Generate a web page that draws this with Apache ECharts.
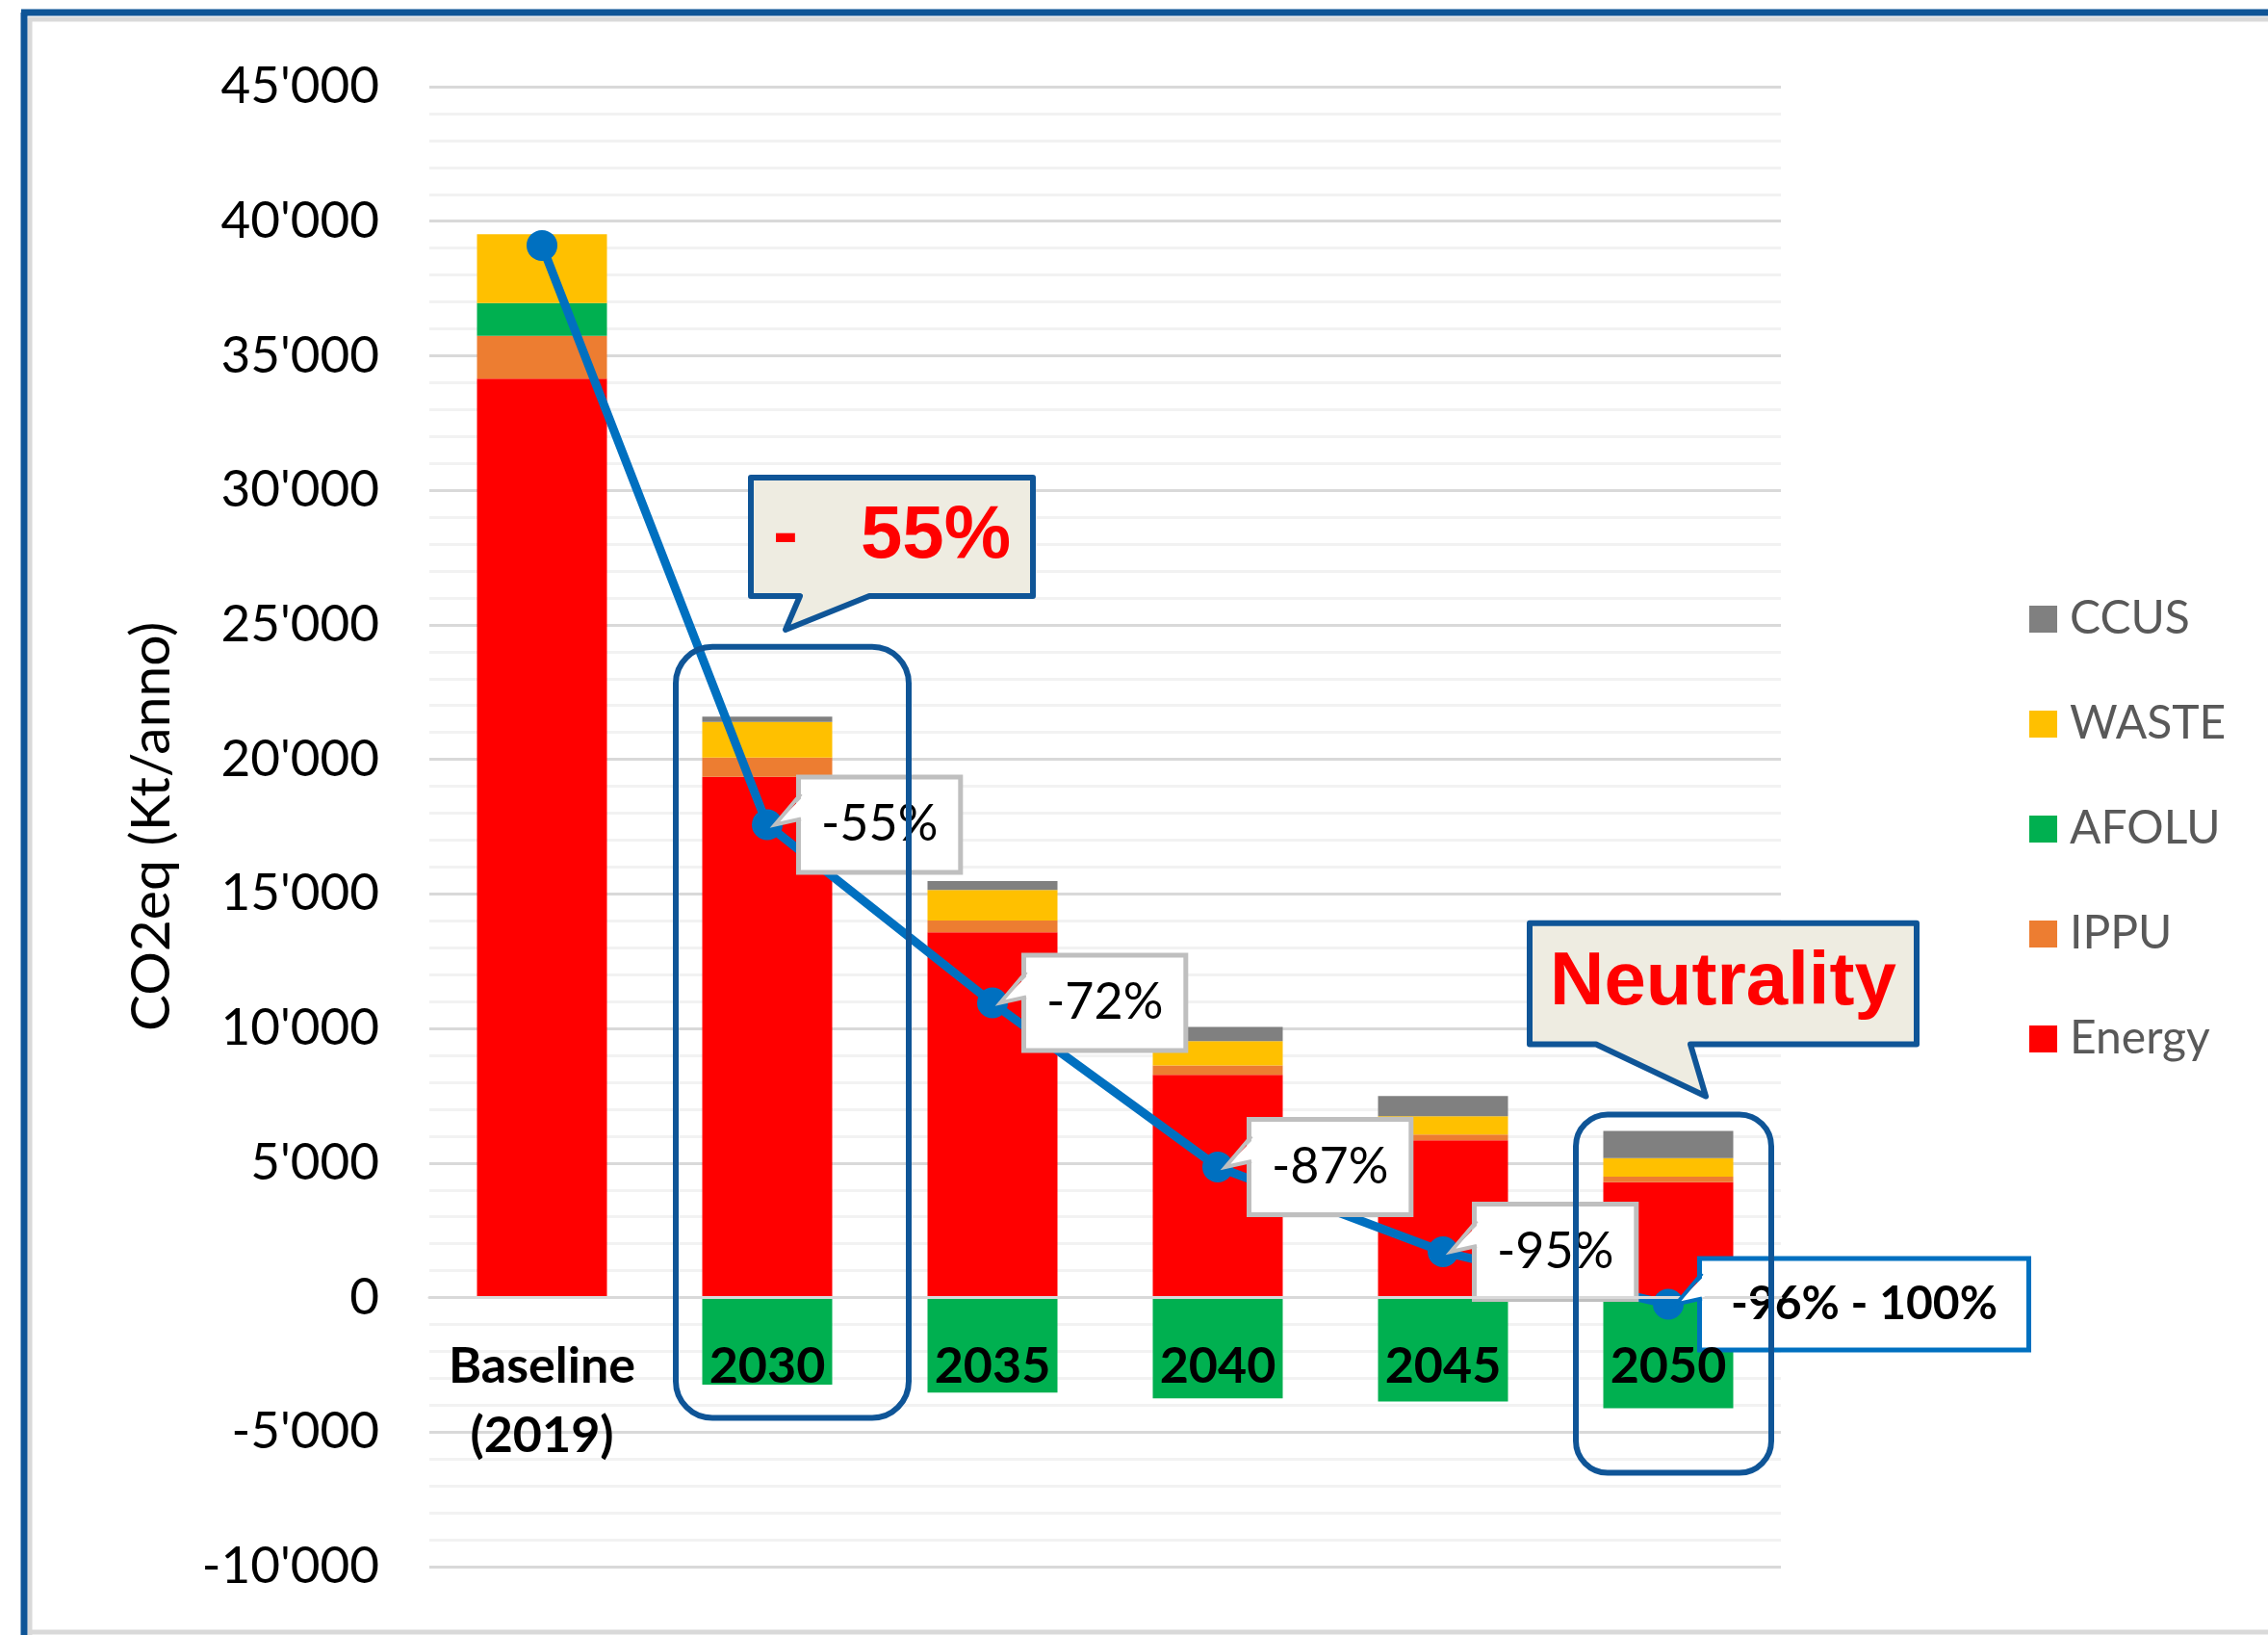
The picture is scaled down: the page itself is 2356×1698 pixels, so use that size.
<!DOCTYPE html>
<html>
<head>
<meta charset="utf-8">
<title>CO2eq (Kt/anno)</title>
<script src="https://cdn.jsdelivr.net/npm/echarts@6/dist/echarts.min.js"></script>
<style>
  html, body { margin: 0; padding: 0; background: #fff; }
  #chart { width: 2356px; height: 1698px; }
</style>
</head>
<body>
<div id="chart"></div>
<script>
const categories = ["Baseline\n(2019)", "2030", "2035", "2040", "2045", "2050"];
const energy = [34150, 19350, 13570, 8280, 5840, 4290];
const ippu = [1590, 720, 440, 350, 220, 200];
const afolu = [1220, -3240, -3530, -3750, -3860, -4110];
const waste = [2560, 1320, 1140, 900, 680, 690];
const ccus = [0, 200, 330, 525, 750, 1010];
const netEmissions = [39100, 17570, 10950, 4850, 1700, -250];
const reductionLabels = ["", "-55%", "-72%", "-87%", "-95%", "-96% - 100%"];
const legendOrder = ["CCUS", "WASTE", "AFOLU", "IPPU", "Energy"];
const yMin = -10000;
const yMax = 45000;
const yStep = 5000;

const darkBlue = "#0F5597";
const lineBlue = "#0070C0";

// 45000 -> 45'000
const fmtThousands = (v) => {
  const s = Math.abs(v).toString().replace(/\B(?=(\d{3})+(?!\d))/g, "'");
  return (v < 0 ? "-" : "") + s;
};

const barSeries = (name, data, color) => ({
  name: name,
  type: "bar",
  stack: "total",
  barWidth: 135,
  data: data,
  itemStyle: { color: color },
});

const chart = echarts.init(document.getElementById("chart"));

chart.setOption({
  animation: false,
  backgroundColor: "#fff",
  textStyle: { fontFamily: "Lato" },
  grid: { left: 446, right: 506, top: 90, bottom: 71, containLabel: false, outerBoundsMode: "none" },
  legend: {
    orient: "vertical",
    left: 2103,
    top: 614,
    data: legendOrder,
    icon: "rect",
    itemWidth: 29,
    itemHeight: 28,
    itemGap: 61,
    selectedMode: false,
    textStyle: {
      fontFamily: "Lato",
      fontSize: 48,
      lineHeight: 48,
      color: "#595959",
      padding: [0, 0, 0, 8],
    },
  },
  xAxis: {
    type: "category",
    data: categories,
    z: 10,
    axisLine: { show: true, onZero: false, lineStyle: { color: "#D9D9D9", width: 3 } },
    axisTick: { show: false },
    axisLabel: {
      interval: 0,
      margin: 36,
      fontFamily: "Lato",
      fontWeight: "bold",
      fontSize: 52,
      lineHeight: 72,
      color: "#000",
    },
  },
  yAxis: {
    type: "value",
    min: yMin,
    max: yMax,
    interval: yStep,
    name: "CO2eq (Kt/anno)",
    nameLocation: "middle",
    nameGap: 260,
    nameTextStyle: { fontFamily: "Lato", fontSize: 57, color: "#000" },
    axisLine: { show: false },
    axisTick: { show: false },
    axisLabel: {
      margin: 52,
      fontFamily: "Lato",
      fontSize: 53,
      color: "#000",
      formatter: fmtThousands,
    },
    splitLine: { lineStyle: { color: "#D9D9D9", width: 3 } },
    minorTick: { show: false, splitNumber: 5 },
    minorSplitLine: { show: true, lineStyle: { color: "#F2F2F2", width: 3 } },
  },
  series: [
    barSeries("Energy", energy, "#FF0000"),
    barSeries("IPPU", ippu, "#ED7D31"),
    barSeries("AFOLU", afolu, "#00B050"),
    barSeries("WASTE", waste, "#FFC000"),
    barSeries("CCUS", ccus, "#808080"),
    {
      name: "Net",
      type: "line",
      z: 5,
      symbol: "circle",
      symbolSize: 32,
      lineStyle: { color: lineBlue, width: 9 },
      itemStyle: { color: lineBlue },
      data: netEmissions.map((v, i) => {
        const item = { value: v };
        if (i === 0) item.label = { show: false };
        if (i === netEmissions.length - 1) {
          item.label = {
            fontWeight: "bold",
            fontSize: 48,
            borderColor: lineBlue,
            padding: [21, 30, 21, 30],
          };
        }
        return item;
      }),
      label: {
        show: true,
        position: "right",
        distance: 19,
        formatter: (p) => reductionLabels[p.dataIndex],
        fontFamily: "Lato",
        fontSize: 52,
        color: "#000",
        backgroundColor: "#fff",
        borderColor: "#BFBFBF",
        borderWidth: 5,
        padding: [21, 21, 21, 21],
      },
    },
  ],
});

// annotations placed from the axes
const px = (i, v) => chart.convertToPixel({ gridIndex: 0 }, [i, v]);

// category axis sits on the zero line (move it up from the bottom of the grid)
chart.setOption({ xAxis: { offset: px(0, 0)[1] - px(0, yMin)[1] } });

const roundBox = (i, dxL, dxR, vTop, vBottom, r) => {
  const c = px(i, 0);
  const top = px(i, vTop)[1];
  const bottom = px(i, vBottom)[1];
  return {
    type: "rect",
    z: 50,
    shape: { x: c[0] + dxL, y: top, width: dxR - dxL, height: bottom - top, r: r },
    style: { fill: "none", stroke: darkBlue, lineWidth: 6 },
  };
};

const callout = (i, dxL, dxR, vTop, vBottom, baseL, baseR, tipDx, tipV, text) => {
  const c = px(i, 0);
  const x0 = c[0] + dxL, x1 = c[0] + dxR;
  const y0 = px(i, vTop)[1], y1 = px(i, vBottom)[1];
  const tipY = px(i, tipV)[1];
  return [
    {
      type: "polygon",
      z: 60,
      shape: {
        points: [
          [x0, y0], [x1, y0], [x1, y1],
          [c[0] + baseR, y1], [c[0] + tipDx, tipY], [c[0] + baseL, y1],
          [x0, y1],
        ],
      },
      style: { fill: "#EEECE1", stroke: darkBlue, lineWidth: 6, lineJoin: "round" },
    },
    {
      type: "text",
      z: 61,
      x: (x0 + x1) / 2,
      y: (y0 + y1) / 2,
      style: {
        text: text,
        fill: "#FF0000",
        font: "bold 78px 'Liberation Sans', Arial, sans-serif",
        align: "center",
        verticalAlign: "middle",
      },
    },
  ];
};

const wedges = [];
for (let i = 1; i < netEmissions.length; i++) {
  const p = px(i, netEmissions[i]);
  const boxLeft = p[0] + 16 + 19;
  const edge = i === netEmissions.length - 1 ? lineBlue : "#BFBFBF";
  wedges.push({
    type: "polygon",
    z: 40,
    shape: { points: [[p[0] + 8, p[1]], [boxLeft + 3, p[1] - 30], [boxLeft + 3, p[1] - 8]] },
    style: { fill: "#fff" },
  });
  wedges.push({
    type: "polyline",
    z: 41,
    shape: { points: [[boxLeft, p[1] - 32], [p[0] + 8, p[1]], [boxLeft, p[1] - 6]] },
    style: { stroke: edge, lineWidth: 4, fill: null },
  });
}

chart.setOption({
  graphic: [
    // frame of the pasted picture
    { type: "line", z: 70, shape: { x1: 25, y1: 13, x2: 25, y2: 1698 }, style: { stroke: darkBlue, lineWidth: 7 } },
    { type: "line", z: 70, shape: { x1: 22, y1: 13, x2: 2356, y2: 13 }, style: { stroke: darkBlue, lineWidth: 7 } },
    { type: "line", z: 69, shape: { x1: 31, y1: 19, x2: 31, y2: 1698 }, style: { stroke: "#D9D9D9", lineWidth: 5 } },
    { type: "line", z: 69, shape: { x1: 29, y1: 20, x2: 2356, y2: 20 }, style: { stroke: "#D9D9D9", lineWidth: 5 } },
    { type: "line", z: 69, shape: { x1: 29, y1: 1695, x2: 2356, y2: 1695 }, style: { stroke: "#D9D9D9", lineWidth: 5 } },
    roundBox(1, -95, 147, 24180, -4470, 38),
    roundBox(5, -96, 107, 6800, -6510, 33),
    ...callout(1, -17, 276, 30470, 26070, 34, 106, 19, 24820, "-   55%"),
    ...callout(5, -144, 258, 13910, 9410, -75, 23, 39, 7480, "Neutrality"),
    ...wedges,
  ],
});
</script>
</body>
</html>
